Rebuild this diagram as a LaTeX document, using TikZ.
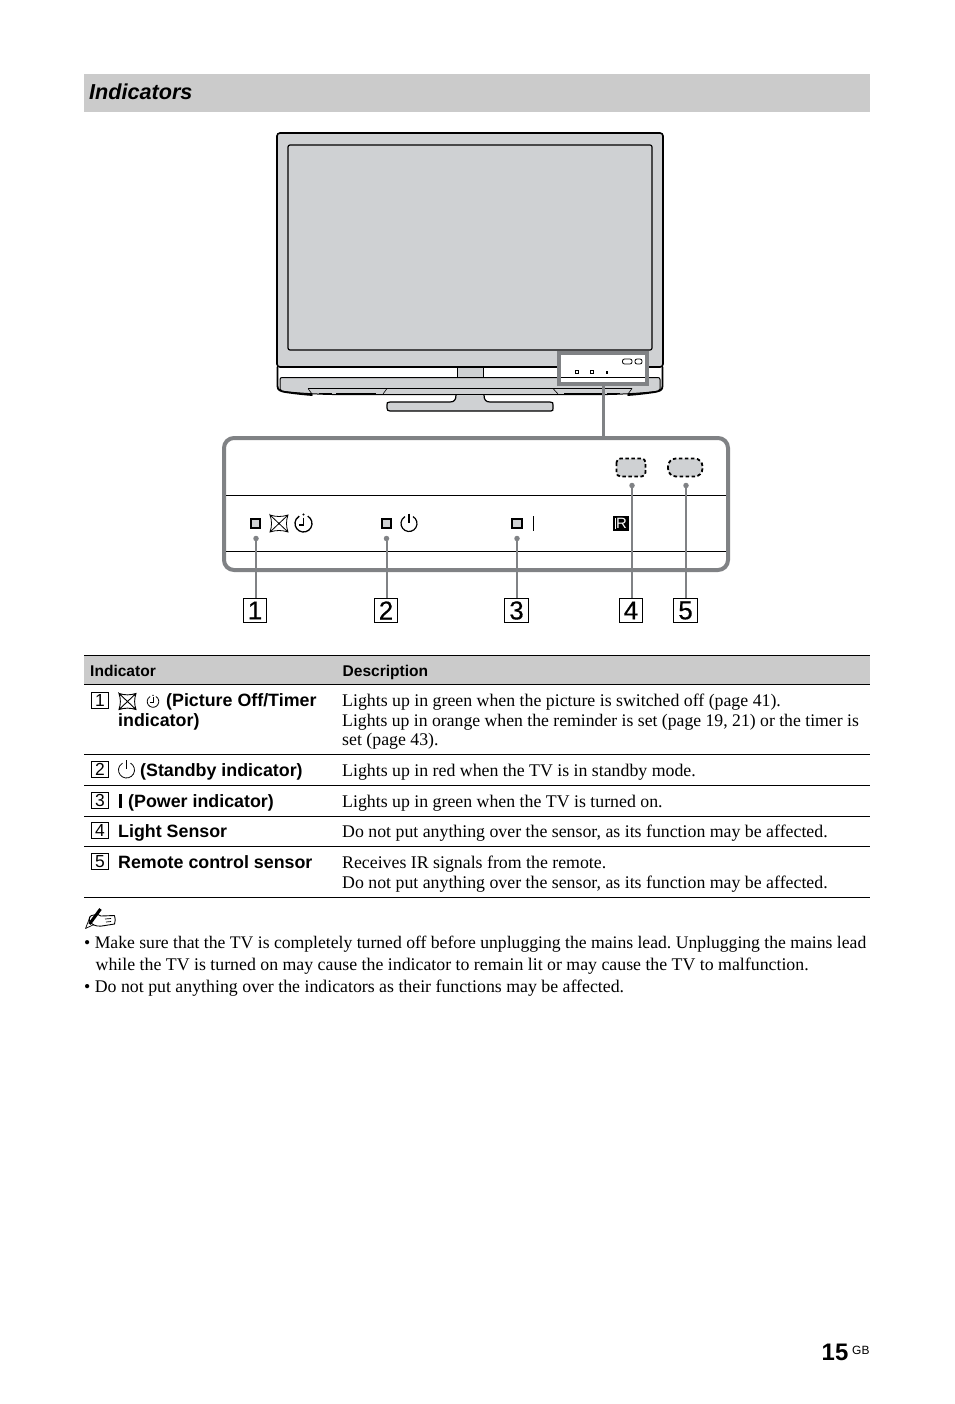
\documentclass[tikz,border=0pt]{standalone}
\usepackage{fontspec}
\setmainfont{Liberation Serif}
\setsansfont{Liberation Sans}
\newfontfamily\numfont[FakeBold=0.5]{Liberation Sans}
\definecolor{tvgray}{HTML}{CFD1D3}
\definecolor{leadgray}{HTML}{808285}
\definecolor{headgray}{HTML}{CBCBCB}
\newcommand{\fsz}[1]{\fontsize{#1}{#1}\selectfont}
\tikzset{
  x=1bp,y=-1bp,
  body/.style={anchor=base west,inner sep=0pt,font=\frenchspacing\fsz{17.87}},
  bodytight/.style={anchor=base west,inner sep=0pt,font=\frenchspacing\fsz{17.75}},
  notetight/.style={anchor=base west,inner sep=0pt,font=\frenchspacing\fsz{17.7}},
  boldtx/.style={anchor=base west,inner sep=0pt,font=\sffamily\bfseries\fsz{17.9}},
  headtx/.style={anchor=base west,inner sep=0pt,font=\sffamily\bfseries\fsz{15.6}},
  bignum/.style={draw=black,line width=1.2bp,minimum width=23.5bp,minimum height=24bp,inner sep=0pt,font=\numfont\fsz{26}},
  smallnum/.style={draw=black,line width=.9bp,minimum width=17.5bp,minimum height=16.5bp,inner sep=0pt,font=\sffamily\fsz{17.5}},
  rule/.style={line width=1bp,black},
  tvline/.style={line width=1bp,black},
  lead/.style={line width=2bp,leadgray},
  leaddot/.style={circle,fill=leadgray,inner sep=0pt,minimum size=5.5bp},
  lamp/.style={draw=black,fill=tvgray,line width=1.9bp,minimum size=9.5bp,inner sep=0pt},
  sensor/.style={draw=black,fill=tvgray,line width=1.8bp,dash pattern=on 3.5bp off 2.5bp},
  crossbox/.pic={
    \draw[line width=#1] (-9,-8.5) .. controls (-3,-6.5) and (3,-6.5) .. (9,-8.5)
      .. controls (7,-3) and (7,3) .. (9,8.5)
      .. controls (3,6.5) and (-3,6.5) .. (-9,8.5)
      .. controls (-7,3) and (-7,-3) .. (-9,-8.5) -- (9,8.5) (9,-8.5) -- (-9,8.5);
  },
  timericon/.pic={
    \draw[line width=#1] (60:8.5bp) arc[start angle=60,end angle=-240,radius=8.5bp];
    \draw[line width=#1] (0,-6) -- (0,1.5) -- (-4.5,1.5);
    \fill (0,-9) circle[radius=1.1bp];
  },
  standbyicon/.pic={
    \draw[line width=#1] (60:8bp) arc[start angle=60,end angle=-240,radius=8bp];
    \draw[line width=#1] (0,-10) -- (0,-1);
  }
}
\begin{document}
\begin{tikzpicture}
\useasboundingbox[fill=white] (0,0) rectangle (954,1404);
% title
\fill[headgray] (84,74) rectangle (870,112);
\node[anchor=base west,inner sep=0pt,font=\sffamily\bfseries\itshape\fsz{21.7}] (title) at (89,99.5) {Indicators};
% TV
\draw[line width=1.6bp,fill=tvgray,rounded corners=3bp] (277,133) rectangle (663,367);
\draw[line width=1.2bp,fill=tvgray,rounded corners=2bp] (288,145) rectangle (652,350);
\draw[tvline,fill=tvgray] (457,367) rectangle (483,378);
\draw[tvline,fill=tvgray,rounded corners=2bp] (280,377.5) -- (660,377.5) -- (660,389) -- (660,391) .. controls (645,393) and (625,394) .. (610,394.5) -- (330,394.5) .. controls (315,394) and (295,393) .. (280,391) -- cycle;
\draw[line width=1.8bp,line cap=round] (277.5,367) -- (277.5,386) .. controls (277.5,390) and (280,391) .. (285,392) .. controls (295,393.5) and (305,394.5) .. (312,395);
\draw[line width=1.8bp,line cap=round] (662.5,367) -- (662.5,386) .. controls (662.5,390) and (660,391) .. (655,392) .. controls (645,393.5) and (635,394.5) .. (628,395);
\draw[line width=.6bp] (308,388.5) -- (632,388.5) (308,388.5) -- (312,394) (387,388.5) -- (383,394) (553,388.5) -- (558,394) (632,388.5) -- (628,394);
\draw[line width=1.6bp] (319,393.5) -- (332,393.5) (336,393.5) -- (376,393.5) (564,393.5) -- (605,393.5) (607,393.5) -- (620,393.5);
\draw[line width=1.2bp,fill=tvgray] (456,395) .. controls (456,400) and (454,402) .. (450,402) -- (390,402) .. controls (387,402) and (387,403) .. (387,405) -- (387,408) .. controls (387,410) and (388,411) .. (390,411) -- (551,411) .. controls (553,411) and (553,410) .. (553,408) -- (553,405) .. controls (553,403) and (553,402) .. (550,402) -- (490,402) .. controls (486,402) and (484,400) .. (484,395);
% highlight
\draw[line width=4bp,leadgray,fill=white] (559,353) rectangle (647,384);
\draw[line width=.8bp] (561,377) -- (645,377);
\draw[line width=.8bp,rounded corners=2bp] (622.5,359) rectangle (632,364);
\draw[line width=.8bp,rounded corners=2bp] (635,359) rectangle (642,364);
\draw[line width=.8bp] (575.5,370.5) rectangle (578,373) (590.5,370.5) rectangle (593,373);
\fill (605.5,370.5) rectangle (607.5,373.5);
% panel
\draw[line width=4bp,leadgray,fill=white,rounded corners=10bp] (224,438) rectangle (728,570);
\draw[line width=3bp,leadgray] (603,386) -- (603,436);
\draw[tvline] (226,495.5) -- (726,495.5) (226,551.5) -- (726,551.5);
\node[lamp] (l1) at (255.5,523.5) {};
\node[lamp] (l2) at (386.5,523.5) {};
\node[lamp] (l3) at (517,523.5) {};
\pic at (279,523.5) {crossbox=.8bp};
\pic at (303.5,523.5) {timericon=1.3bp};
\pic at (409,523.5) {standbyicon=1.2bp};
\draw[line width=1.5bp] (533.5,516) -- (533.5,531);
\draw[sensor,rounded corners=4bp] (616.5,458.5) rectangle (645.5,476.5);
\draw[sensor,rounded corners=8bp] (668,458.5) rectangle (702.5,476.5);
\node[fill=black,minimum width=16bp,minimum height=15.5bp,inner sep=0pt,text=white,font=\sffamily\fsz{15}] (ir) at (620.5,523.5) {\hspace{2bp}R};
\draw[white,line width=.8bp] (615.5,518) -- (615.5,529);
% leaders
\node[leaddot] (d1) at (256,538.5) {};
\node[leaddot] (d2) at (386.5,538.5) {};
\node[leaddot] (d3) at (517,538.5) {};
\node[leaddot] (d4) at (632,485.5) {};
\node[leaddot] (d5) at (686,485.5) {};
\node[bignum] (n1) at (255,610.5) {1};
\node[bignum] (n2) at (386,610.5) {2};
\node[bignum] (n3) at (516.5,610.5) {3};
\node[bignum] (n4) at (631,610.5) {4};
\node[bignum] (n5) at (685.5,610.5) {5};
\draw[lead] (d1) -- (d1 |- n1.north);
\draw[lead] (d2) -- (d2 |- n2.north);
\draw[lead] (d3) -- (d3 |- n3.north);
\draw[lead] (d4) -- (d4 |- n4.north);
\draw[lead] (d5) -- (d5 |- n5.north);
% table
\fill[headgray] (84,655.5) rectangle (870,684.5);
\draw[line width=.8bp] (84,655.5) -- (870,655.5);
\draw[rule] (84,684.5) -- (870,684.5) (84,754.5) -- (870,754.5) (84,785.5) -- (870,785.5) (84,816.5) -- (870,816.5) (84,846.5) -- (870,846.5) (84,897.5) -- (870,897.5);
\node[headtx] (hi) at (90,676) {Indicator};
\node[headtx] (hd) at (342.5,676) {Description};
\node[smallnum] (s1) at (100,700.5) {1};
\node[smallnum] (s2) at (100,769.5) {2};
\node[smallnum] (s3) at (100,800.5) {3};
\node[smallnum] (s4) at (100,830.5) {4};
\node[smallnum] (s5) at (100,861.5) {5};
\pic[scale=.95] at (127.5,701.5) {crossbox=.9bp};
\pic[scale=.68] at (153,701.5) {timericon=.8bp};
\pic at (126.5,770) {standbyicon=.8bp};
\fill (118.5,794) rectangle (122,807.5);
\node[boldtx] (t1a) at (166,706) {(Picture Off/Timer};
\node[boldtx] (t1b) at (118,726) {indicator)};
\node[boldtx] (t2) at (140,776) {(Standby indicator)};
\node[boldtx] (t3) at (128,807) {(Power indicator)};
\node[boldtx] (t4) at (118,837) {Light Sensor};
\node[boldtx] (t5) at (118,868) {Remote control sensor};
\node[body] (b1) at (342,706) {Lights up in green when the picture is switched off (page 41).};
\node[bodytight] (b2) at (342,726) {Lights up in orange when the reminder is set (page 19, 21) or the timer is};
\node[body] (b3) at (342,745) {set (page 43).};
\node[body] (b4) at (342,776) {Lights up in red when the TV is in standby mode.};
\node[body] (b5) at (342,807) {Lights up in green when the TV is turned on.};
\node[body] (b6) at (342,837) {Do not put anything over the sensor, as its function may be affected.};
\node[body] (b7) at (342,868) {Receives IR signals from the remote.};
\node[body] (b8) at (342,888) {Do not put anything over the sensor, as its function may be affected.};
% note icon
\draw[line width=.9bp,fill=white,line join=round] (90,922) .. controls (88,918) and (90,915) .. (94,915) -- (98,914.5) -- (101,916) -- (114.5,915.5) .. controls (115.5,919) and (115.5,921) .. (114.5,924) -- (105,925.5) .. controls (100,926.5) and (94,927) .. (90,922) -- cycle;
\draw[line width=.7bp] (85.5,928.5) -- (90,917) (85.5,928.5) -- (94,924.5) (105,919) -- (111,918.5) (106,922) -- (111,921.5);
\draw[line width=3bp] (89.5,924) -- (100.5,909);
% notes
\node[notetight] (m1) at (84,948) {• Make sure that the TV is completely turned off before unplugging the mains lead. Unplugging the mains lead};
\node[body] (m2) at (95.5,970) {while the TV is turned on may cause the indicator to remain lit or may cause the TV to malfunction.};
\node[body] (m3) at (84,992) {• Do not put anything over the indicators as their functions may be affected.};
% page number
\node[anchor=base west,inner sep=0pt,font=\sffamily\bfseries\fsz{24}] (pg) at (821.5,1360) {15};
\node[anchor=base west,inner sep=0pt,font=\sffamily\fsz{12}] (gb) at (852,1354) {GB};
\end{tikzpicture}
\end{document}
